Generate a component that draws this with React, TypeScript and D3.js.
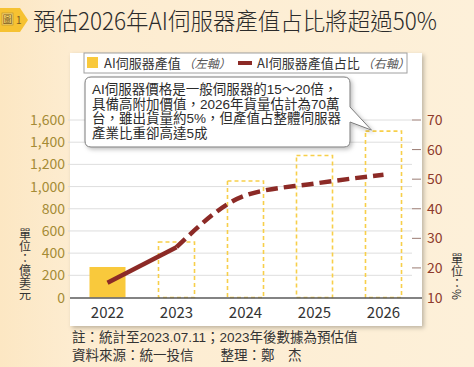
import React from "react";
import * as d3 from "d3";

// DATA
const years = ["2022", "2023", "2024", "2025", "2026"];
const outputValues = [275, 500, 1050, 1280, 1500]; // 億美元 (left axis)
const shareValues = [15, 27, 44.5, 48.5, 51.5]; // % (right axis)
const leftTicks = [0, 200, 400, 600, 800, 1000, 1200, 1400, 1600];
const rightTicks = [10, 20, 30, 40, 50, 60, 70];
const noteLines = [
  "AI伺服器價格是一般伺服器的15～20倍，",
  "具備高附加價值，2026年貨量估計為70萬",
  "台，雖出貨量約5%，但產值占整體伺服器",
  "產業比重卻高達5成",
];
const footLines = [
  "註：統計至2023.07.11；2023年後數據為預估值",
  "資料來源：統一投信　　整理：鄭　杰",
];

const FONT = "'Noto Sans CJK TC', 'Noto Sans', sans-serif";
// latin-first stack keeps the tight line box for stacked lines
const NOTE_FONT = "'Liberation Sans', 'Noto Sans CJK TC', sans-serif";

export default function App() {
  const W = 474;
  const H = 367;

  // SCALES
  const x = d3
    .scaleBand<string>()
    .domain(years)
    .range([73, 418])
    .paddingInner(0.478)
    .paddingOuter(0.239);
  const yL = d3.scaleLinear().domain([0, 1600]).range([297.5, 120]);
  const yR = d3.scaleLinear().domain([10, 70]).range([297.5, 120]);

  const cx = (y: string) => (x(y) as number) + x.bandwidth() / 2;

  const pts: [number, number][] = years.map((y, i) => [cx(y), yR(shareValues[i])]);
  const straight = d3.line();
  const curved = d3.line().curve(d3.curveMonotoneX);

  // annotation box with tail
  const bx0 = 85, bx1 = 350, by0 = 77, by1 = 147, r = 6;
  const tip: [number, number] = [cx("2026") - 12, yL(outputValues[4]) - 1];
  const calloutPath = [
    `M${bx0 + r},${by0}`,
    `H${bx1 - r}`,
    `Q${bx1},${by0} ${bx1},${by0 + r}`,
    `V107`,
    `L${tip[0]},${tip[1]}`,
    `L${bx1},122`,
    `V${by1 - r}`,
    `Q${bx1},${by1} ${bx1 - r},${by1}`,
    `H${bx0 + r}`,
    `Q${bx0},${by1} ${bx0},${by1 - r}`,
    `V${by0 + r}`,
    `Q${bx0},${by0} ${bx0 + r},${by0}`,
    "Z",
  ].join(" ");

  return (
    <svg
      width={W}
      height={H}
      viewBox={`0 0 ${W} ${H}`}
      style={{ position: "absolute", left: 0, top: 0, fontFamily: FONT }}
    >
      <defs>
        <filter id="shadow" x="-10%" y="-10%" width="130%" height="130%">
          <feDropShadow dx="2" dy="2" stdDeviation="2" floodColor="#000" floodOpacity="0.25" />
        </filter>
        <linearGradient id="bg" x1="0" x2="1" y1="0" y2="0">
          <stop offset="0" stopColor="#fce7c3" />
          <stop offset="0.15" stopColor="#fdecd0" />
          <stop offset="1" stopColor="#fdf0d9" />
        </linearGradient>
      </defs>

      {/* BACKGROUND */}
      <rect x={0} y={0} width={W} height={H} fill="url(#bg)" />

      {/* TITLE BADGE */}
      <path d="M0,8 H20 L28,20 L20,32 H0 Z" fill="#f6c232" />
      <rect x={2} y={13} width={11} height={12} fill="#f9d66a" stroke="#b08a30" strokeWidth={0.6} />
      <text x={7.5} y={23} fontSize={10} textAnchor="middle" fill="#7a5a20">圖</text>
      <text x={16} y={24} fontSize={10} fill="#7a5a20">1</text>
      <text
        x={33}
        y={30}
        fontSize={24}
        fontWeight={300}
        fill="#2b2b2b"
        textLength={404}
        lengthAdjust="spacingAndGlyphs"
      >
        預估2026年AI伺服器產值占比將超過50%
      </text>

      {/* PANEL */}
      <rect x={70} y={53} width={352} height={273} fill="#fff" filter="url(#shadow)" />

      {/* GRID */}
      {leftTicks.slice(1).map((t) => (
        <line key={t} x1={68} x2={412} y1={yL(t)} y2={yL(t)} stroke="#dedede" strokeWidth={1} />
      ))}
      {rightTicks.slice(1).map((t) => (
        <line key={t} x1={412} x2={421} y1={yR(t)} y2={yR(t)} stroke="#9a7b72" strokeWidth={1} />
      ))}

      {/* BARS */}
      {years.map((y, i) =>
        i === 0 ? (
          <rect
            key={y}
            x={x(y)}
            y={yL(outputValues[i])}
            width={x.bandwidth()}
            height={yL(0) - yL(outputValues[i])}
            fill="#f9c93c"
          />
        ) : (
          <rect
            key={y}
            x={x(y)}
            y={yL(outputValues[i])}
            width={x.bandwidth()}
            height={yL(0) - yL(outputValues[i])}
            fill="none"
            stroke="#f7cf4a"
            strokeWidth={1.6}
            strokeDasharray="4 3"
          />
        )
      )}

      {/* BASELINE */}
      <line x1={70} x2={422} y1={298} y2={298} stroke="#5a5a5a" strokeWidth={1.5} />

      {/* LINE */}
      <path d={straight(pts.slice(0, 2)) || ""} fill="none" stroke="#8c2a26" strokeWidth={4.5} />
      <path
        d={curved(pts.slice(1)) || ""}
        fill="none"
        stroke="#8c2a26"
        strokeWidth={4.5}
        strokeDasharray="12 6"
      />

      {/* AXIS LABELS */}
      {leftTicks.map((t) => (
        <text key={t} x={65} y={yL(t) + 5} fontSize={14} textAnchor="end" fill="#a58b36">
          {d3.format(",")(t)}
        </text>
      ))}
      {rightTicks.map((t) => (
        <text key={t} x={427} y={yR(t) + 5} fontSize={14} fill="#8e3b2c">
          {t}
        </text>
      ))}
      {years.map((y) => (
        <text key={y} x={cx(y)} y={318} fontSize={15} textAnchor="middle" fill="#333">
          {y}
        </text>
      ))}

      {/* UNITS */}
      <text x={25} y={228} fontSize={12} fill="#333" style={{ writingMode: "vertical-rl" }}>
        單位：億美元
      </text>
      <text x={457} y={253} fontSize={12} fill="#333" style={{ writingMode: "vertical-rl" }}>
        單位：%
      </text>

      {/* LEGEND */}
      <rect x={84} y={53} width={323} height={20} fill="#fff" stroke="#a0a0a0" strokeWidth={1} />
      <rect x={87} y={57} width={11} height={11} fill="#f9c93c" />
      <text x={104} y={68} fontSize={13} fill="#333">
        AI伺服器產值
        <tspan dx={2} fontSize={12} fill="#555" fontStyle="italic">（左軸）</tspan>
      </text>
      <line x1={238} x2={252} y1={63} y2={63} stroke="#8c2a26" strokeWidth={4} />
      <text x={257} y={68} fontSize={13} fill="#333">
        AI伺服器產值占比
        <tspan dx={2} fontSize={12} fill="#555" fontStyle="italic">（右軸）</tspan>
      </text>

      {/* CALLOUT */}
      <path d={calloutPath} fill="#fff" stroke="#7a7a7a" strokeWidth={1} filter="url(#shadow)" />
      {noteLines.map((l, i) => (
        <text key={i} x={92} y={94 + i * 14.5} fontSize={13.5} fill="#2b2b2b" fontFamily={NOTE_FONT}>
          {l}
        </text>
      ))}

      {/* FOOTER */}
      {footLines.map((l, i) => (
        <text key={i} x={72} y={342 + i * 18} fontSize={13.5} fill="#333" fontFamily={NOTE_FONT}>
          {l}
        </text>
      ))}
    </svg>
  );
}
